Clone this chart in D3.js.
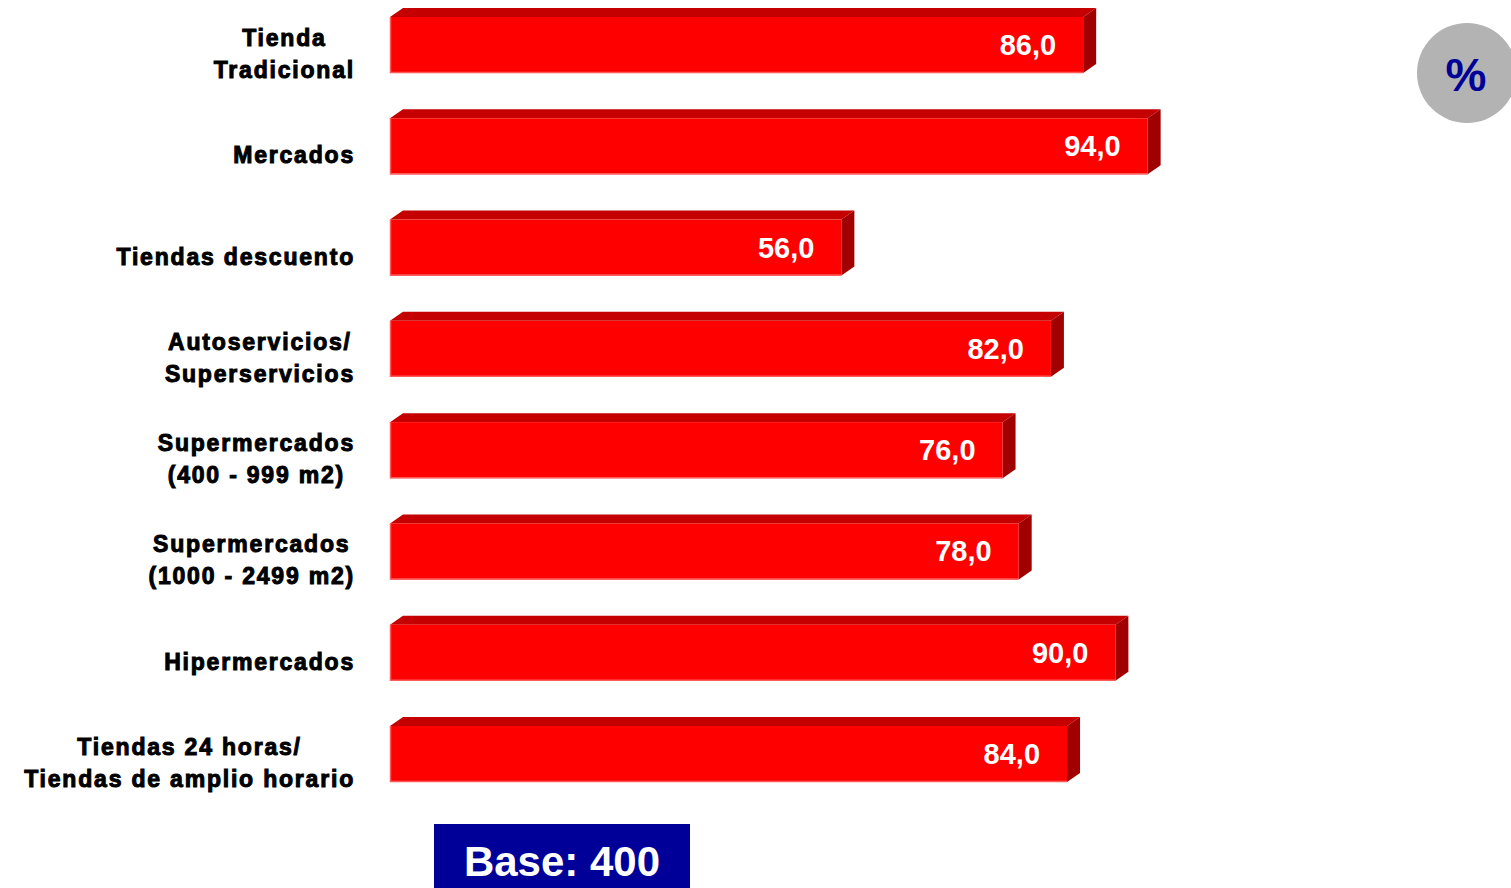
<!DOCTYPE html>
<html>
<head>
<meta charset="utf-8">
<script src="https://cdn.jsdelivr.net/npm/d3@7"></script>
<style>
  html, body { margin: 0; padding: 0; background: #ffffff; }
  svg { display: block; }
</style>
</head>
<body>
<div id="chart"></div>
<script>
// Store-format categories (each entry is a list of text lines)
const categories = [
  ["Tienda", "Tradicional"],
  ["Mercados"],
  ["Tiendas descuento"],
  ["Autoservicios/", "Superservicios"],
  ["Supermercados", "(400 - 999 m2)"],
  ["Supermercados", "(1000 - 2499 m2)"],
  ["Hipermercados"],
  ["Tiendas 24 horas/", "Tiendas de amplio horario"]
];
const values = [86.0, 94.0, 56.0, 82.0, 76.0, 78.0, 90.0, 84.0];
const baseText = "Base: 400";
const unitText = "%";

const W = 1511, H = 888;
const svg = d3.select("#chart").append("svg")
  .attr("width", W).attr("height", H);

const keys = categories.map(c => c.join(" "));

const x = d3.scaleLinear().domain([0, 100]).range([390, 1196]);
const y = d3.scaleBand().domain(keys).range([17, 782])
  .paddingInner(0.447).paddingOuter(0);

const depthX = 13, depthY = 9;
const fmt = v => d3.format(".1f")(v).replace(".", ",");

const rows = svg.append("g").selectAll("g")
  .data(values.map((v, i) => ({ v, key: keys[i], lines: categories[i] })))
  .join("g");

// top face of the 3D bar
rows.append("path")
  .attr("fill", "#c40000")
  .attr("d", d => {
    const x0 = x(0), x1 = x(d.v), y0 = y(d.key);
    return `M${x0},${y0} L${x0 + depthX},${y0 - depthY} L${x1 + depthX},${y0 - depthY} L${x1},${y0} Z`;
  });

// right side face
rows.append("path")
  .attr("fill", "#a00000")
  .attr("d", d => {
    const x1 = x(d.v), y0 = y(d.key), y1 = y0 + y.bandwidth();
    return `M${x1},${y0} L${x1 + depthX},${y0 - depthY} L${x1 + depthX},${y1 - depthY} L${x1},${y1} Z`;
  });

// front face
rows.append("rect")
  .attr("x", x(0))
  .attr("y", d => y(d.key))
  .attr("width", d => x(d.v) - x(0))
  .attr("height", y.bandwidth())
  .attr("fill", "#ff0000");

// light edge along the bottom and left of the front face
rows.append("path")
  .attr("fill", "none")
  .attr("stroke", "#ff5a5a")
  .attr("stroke-width", 1.5)
  .attr("d", d => {
    const x0 = x(0), x1 = x(d.v), y0 = y(d.key), y1 = y0 + y.bandwidth();
    return `M${x0 + 0.5},${y0} L${x0 + 0.5},${y1 - 0.5} L${x1},${y1 - 0.5}`;
  });

// value labels
rows.append("text")
  .attr("x", d => x(d.v) - 27)
  .attr("y", d => y(d.key) + y.bandwidth() / 2 + 10)
  .attr("text-anchor", "end")
  .attr("font-family", "'Liberation Sans', Arial, sans-serif")
  .attr("font-weight", "bold")
  .attr("font-size", 29)
  .attr("fill", "#ffffff")
  .text(d => fmt(d.v));

// category labels: centred lines, block right-aligned to the axis gap
const labelRight = 355;
const lineH = 32;
rows.each(function(d) {
  const g = d3.select(this);
  const t = g.append("text")
    .attr("font-family", "'Liberation Sans', Arial, sans-serif")
    .attr("font-weight", "bold")
    .attr("font-size", 23)
    .attr("letter-spacing", 1.8)
    .attr("fill", "#000000")
    .attr("stroke", "#000000")
    .attr("stroke-width", 1)
    .attr("text-anchor", "middle");
  const cy = y(d.key) + y.bandwidth() / 2 + 9;
  const n = d.lines.length;
  d.lines.forEach((line, i) => {
    t.append("tspan")
      .attr("x", 0)
      .attr("y", cy + (i - (n - 1) / 2) * lineH + 8)
      .text(line);
  });
  const w = t.node().getBBox().width;
  t.attr("transform", `translate(${labelRight - w / 2},0)`);
});

// percentage badge
svg.append("circle")
  .attr("cx", 1467).attr("cy", 73).attr("r", 50)
  .attr("fill", "#b3b3b3");
svg.append("text")
  .attr("x", 1466).attr("y", 91)
  .attr("text-anchor", "middle")
  .attr("font-family", "'Liberation Sans', Arial, sans-serif")
  .attr("font-weight", "bold")
  .attr("font-size", 46)
  .attr("fill", "#000099")
  .text(unitText);

// base box
svg.append("rect")
  .attr("x", 434).attr("y", 824).attr("width", 256).attr("height", 70)
  .attr("fill", "#000099");
svg.append("text")
  .attr("x", 562).attr("y", 876)
  .attr("text-anchor", "middle")
  .attr("font-family", "'Liberation Sans', Arial, sans-serif")
  .attr("font-weight", "bold")
  .attr("font-size", 42)
  .attr("fill", "#ffffff")
  .text(baseText);
</script>
</body>
</html>
